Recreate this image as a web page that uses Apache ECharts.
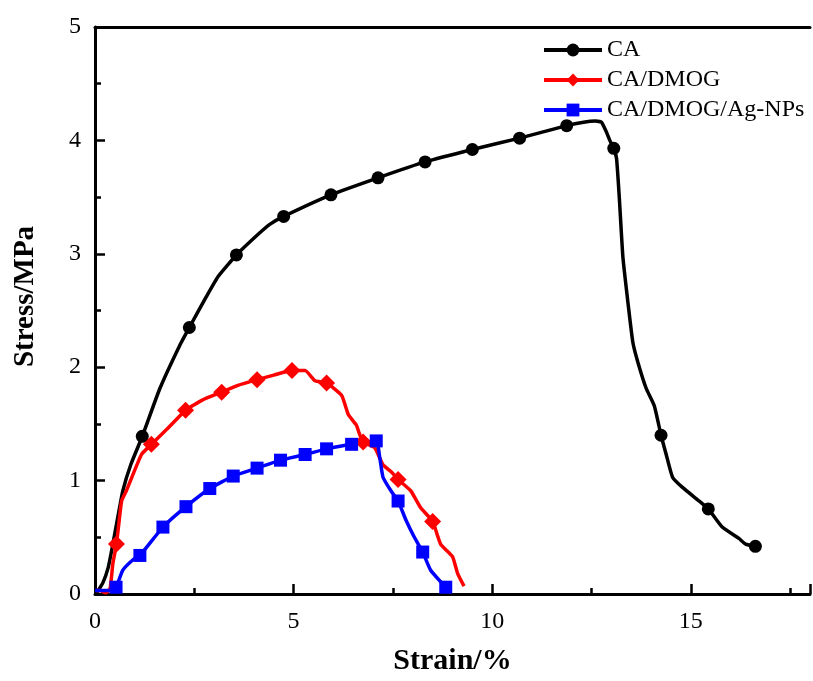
<!DOCTYPE html>
<html>
<head>
<meta charset="utf-8">
<script src="https://cdn.jsdelivr.net/npm/echarts@6/dist/echarts.min.js"></script>
<style>
  html, body { margin: 0; padding: 0; background: #fff; }
  #main { width: 813px; height: 681px; }
</style>
</head>
<body>
<div id="main"></div>
<script>
// strain (%) / stress (MPa)
var caCurve = [[0.02,0],[0.08,0.03],[0.2,0.1],[0.33,0.23],[0.45,0.44],[0.58,0.69],[0.7,0.91],[0.9,1.14],
  [1.63,1.81],[2.13,2.19],[2.8,2.62],[3.1,2.8],[4.1,3.17],[4.4,3.26],[12.3,4.16],[12.6,4.17],[12.75,4.16],
  [12.88,4.07],[12.96,4.0],[13.13,3.84],[13.2,3.49],[13.29,2.97],[13.42,2.56],[13.54,2.22],[13.67,2.04],
  [13.88,1.81],[14.08,1.66],[14.38,1.23],[14.54,1.03],[14.79,0.94],[15.21,0.82],[15.79,0.59],[16.21,0.49],[16.38,0.44]];
var caMarks = [[1.19,1.39],[2.375,2.35],[3.56,2.99],[4.75,3.33],[5.94,3.52],[7.125,3.67],[8.31,3.81],
  [9.5,3.92],[10.69,4.02],[11.875,4.13],[13.06,3.93],[14.25,1.40],[15.44,0.75],[16.625,0.42]];

var dmogCurve = [[0.02,0.03],[0.12,0.03],[0.28,0.01],[0.38,0.05],[0.45,0.27],[0.6,0.62],[0.67,0.82],
  [0.79,0.91],[1.17,1.23],[1.8,1.45],[2.7,1.71],[3.6,1.84],[4.5,1.93],[5.29,1.97],[5.54,1.88],[6.21,1.75],
  [6.38,1.58],[6.58,1.49],[6.65,1.42],[7.04,1.29],[7.25,1.14],[7.45,1.08],[7.95,0.91],[8.2,0.76],
  [8.7,0.44],[9.0,0.33],[9.13,0.18],[9.29,0.07]];
var dmogMarks = [[0.54,0.44],[1.42,1.32],[2.28,1.62],[3.19,1.78],[4.08,1.89],[4.96,1.97],[5.83,1.86],
  [6.75,1.34],[7.63,1.01],[8.5,0.64]];

var agCurve = [[0,0.03],[0.38,0.03],[0.7,0.21],[0.95,0.3],[7.17,1.2],[7.25,1.03],[7.45,0.91],
  [7.83,0.65],[8.04,0.5],[8.45,0.21]];
var agMarks = [[0.53,0.06],[1.13,0.34],[1.71,0.59],[2.29,0.77],[2.89,0.93],[3.48,1.04],[4.08,1.11],
  [4.67,1.18],[5.29,1.23],[5.83,1.28],[6.46,1.32],[7.08,1.35],[7.63,0.82],[8.25,0.37],[8.83,0.06]];

var seriesNames = ['CA', 'CA/DMOG', 'CA/DMOG/Ag-NPs'];
var xTicks = [0, 5, 10, 15];
var yTicks = [0, 1, 2, 3, 4, 5];

var font = 'Liberation Serif';

// merge curve points and marker points, markers keep their symbol
function build(curve, marks) {
  var pts = [];
  curve.forEach(function (p) { pts.push({ value: p, symbol: 'none' }); });
  marks.forEach(function (p) { pts.push({ value: p }); });
  pts.sort(function (a, b) { return a.value[0] - b.value[0]; });
  return pts;
}

var chart = echarts.init(document.getElementById('main'));

function mkSeries(name, color, symbol, size, curve, marks) {
  return {
    name: name,
    type: 'line',
    data: build(curve, marks),
    symbol: symbol,
    symbolSize: size,
    showSymbol: true,
    showAllSymbol: true,
    smooth: 0.15,
    lineStyle: { color: color, width: 3.5 },
    itemStyle: { color: color },
    animation: false
  };
}

var option = {
  backgroundColor: '#fff',
  grid: { left: 95, right: -2, top: 27, bottom: 80 },
  legend: {
    data: seriesNames,
    orient: 'vertical',
    left: 537,
    top: 33,
    itemWidth: 58,
    itemHeight: 16,
    itemGap: 6,
    lineStyle: { width: 4 },
    textStyle: { fontFamily: font, fontSize: 24, color: '#000' }
  },
  xAxis: [{
    type: 'value',
    min: 0, max: 18, interval: 5,
    name: 'Strain/%',
    nameLocation: 'middle',
    nameGap: 52,
    nameTextStyle: { fontFamily: font, fontSize: 30, fontWeight: 'bold', color: '#000' },
    axisLine: { onZero: false, lineStyle: { color: '#000', width: 3 } },
    axisTick: { inside: true, length: 10, lineStyle: { width: 2.5 } },
    minorTick: { show: true, splitNumber: 2, length: 6, lineStyle: { color: '#000', width: 2.5 } },
    splitLine: { show: false },
    axisLabel: { fontFamily: font, fontSize: 24, color: '#000', margin: 16,
      formatter: function (v) { return xTicks.indexOf(v) >= 0 ? v : ''; } }
  }, {
    type: 'value',
    position: 'top',
    min: 0, max: 18,
    axisLine: { onZero: false, lineStyle: { color: '#000', width: 3 } },
    axisTick: { show: false },
    axisLabel: { show: false },
    splitLine: { show: false }
  }],
  yAxis: {
    type: 'value',
    min: 0, max: 5, interval: 1,
    name: 'Stress/MPa',
    nameLocation: 'middle',
    nameGap: 55,
    nameTextStyle: { fontFamily: font, fontSize: 29, fontWeight: 'bold', color: '#000',
      padding: [0, 0, 0, 28] },
    axisLine: { show: true, onZero: false, lineStyle: { color: '#000', width: 3 } },
    axisTick: { inside: true, length: 10, lineStyle: { width: 2.5 } },
    minorTick: { show: true, splitNumber: 2, length: 6, lineStyle: { color: '#000', width: 2.5 } },
    splitLine: { show: false },
    axisLabel: { fontFamily: font, fontSize: 24, color: '#000', margin: 14,
      formatter: function (v) { return yTicks.indexOf(v) >= 0 ? v : ''; } }
  },
  series: [
    mkSeries(seriesNames[0], '#000000', 'circle', 13, caCurve, caMarks),
    mkSeries(seriesNames[1], '#ff0000', 'diamond', 17, dmogCurve, dmogMarks),
    mkSeries(seriesNames[2], '#0000ff', 'rect', 13, agCurve, agMarks)
  ]
};
chart.setOption(option);
</script>
</body>
</html>
